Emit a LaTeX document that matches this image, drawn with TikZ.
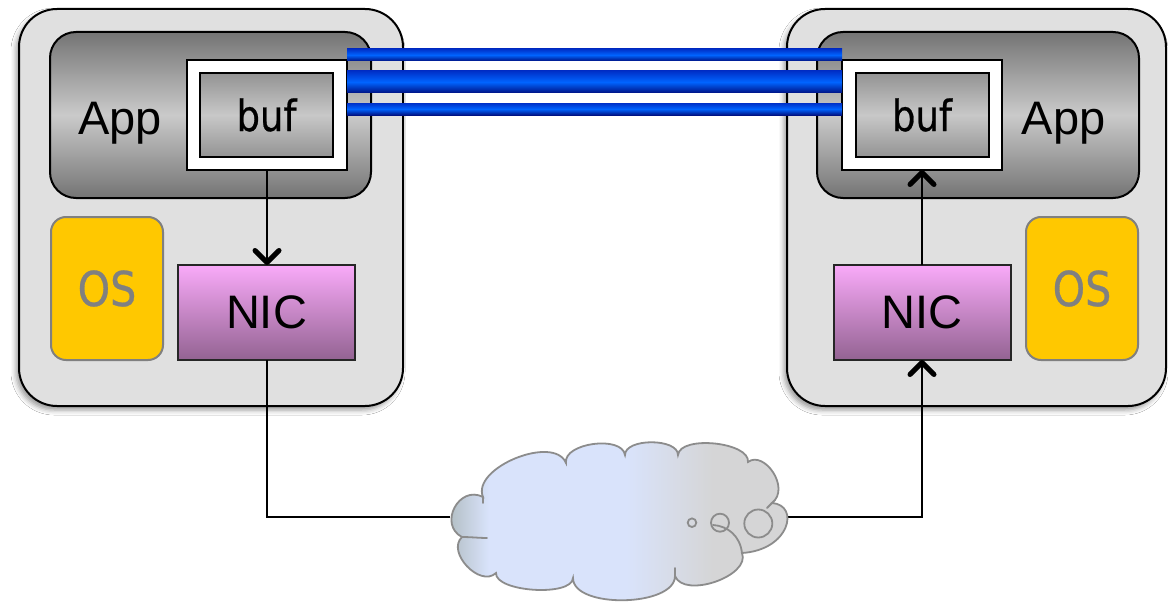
\documentclass[tikz,border=0pt]{standalone}
\usepackage{fontspec}
\newfontfamily\labelfont{Liberation Sans}
\newfontfamily\narrowfont[FakeStretch=0.86,FakeBold=0.6]{DejaVu Sans}
\usetikzlibrary{arrows.meta,calc,shadows.blur}

\definecolor{hostfill}{HTML}{E0E0E0}
\definecolor{appdark}{HTML}{747474}
\definecolor{applight}{HTML}{CACACA}
\definecolor{bufdark}{HTML}{939393}
\definecolor{buflight}{HTML}{C8C8C8}
\definecolor{nictop}{HTML}{F9AAF9}
\definecolor{nicbot}{HTML}{936392}
\definecolor{osfill}{HTML}{FFC800}
\definecolor{osgray}{HTML}{808080}
\definecolor{barbright}{HTML}{0064FF}
\definecolor{bartop}{HTML}{0030C8}
\definecolor{bardark}{HTML}{001284}
\definecolor{cloudedge}{HTML}{8C8C8C}
\definecolor{cloudleft}{HTML}{B2BEC4}
\definecolor{cloudblue}{HTML}{D9E3FB}
\definecolor{cloudgray}{HTML}{D5D5D6}

\pgfdeclarehorizontalshading{cloudshade}{100bp}{%
  color(0bp)=(cloudleft); color(26.5bp)=(cloudleft); color(32bp)=(cloudblue);
  color(51bp)=(cloudblue); color(63bp)=(cloudgray); color(100bp)=(cloudgray)}

\begin{document}
\begin{tikzpicture}[x=1pt,y=-1pt,
  box/.style={inner sep=0pt, outer sep=0pt},
  hostbox/.style={box, draw=black, line width=2pt, fill=hostfill,
    rounded corners=38pt, minimum height=397pt,
    blur shadow={shadow xshift=-3pt, shadow yshift=-4pt,
      shadow blur radius=5pt, shadow opacity=40}},
  appbox/.style={box, draw=black, line width=2pt, rounded corners=26pt,
    minimum width=321pt, minimum height=166pt,
    top color=appdark, bottom color=appdark, middle color=applight},
  bufframe/.style={box, draw=black, line width=2.5pt, fill=white,
    minimum width=160pt, minimum height=110pt},
  bufbox/.style={box, draw=black, line width=2pt,
    minimum width=133pt, minimum height=84pt,
    top color=bufdark, bottom color=bufdark, middle color=buflight,
    font=\narrowfont\fontsize{43}{46}\selectfont},
  osbox/.style={box, draw=osgray, line width=2pt, fill=osfill,
    rounded corners=15pt, minimum width=112pt, minimum height=143pt,
    text=osgray, font=\narrowfont\fontsize{48}{50}\selectfont},
  nicbox/.style={box, draw=black!85, line width=2pt,
    minimum width=177pt, minimum height=95pt,
    top color=nictop, bottom color=nicbot,
    font=\labelfont\fontsize{47}{50}\selectfont},
  applabel/.style={inner sep=0pt, anchor=base,
    font=\labelfont\fontsize{47}{50}\selectfont},
  conn/.style={draw=black, line width=2pt},
  arr/.style={conn, -{Straight Barb[round, length=12pt, width=24pt, line width=5pt]}},
  bar/.style={top color=bartop, bottom color=bardark, middle color=barbright},
  cloudline/.style={draw=cloudedge, line width=1.8pt},
]
\fill[white] (0,0) rectangle (1168,602);
\useasboundingbox (0,0) rectangle (1168,602);

% the two hosts
\node[hostbox, minimum width=384pt] (hostL) at (211,207.5) {};
\node[hostbox, minimum width=379pt] (hostR) at (976.5,207.5) {};

% applications with their buffers
\node[appbox] (appL) at (210.5,115) {};
\node[appbox, minimum width=322pt] (appR) at (978,115) {};
\node[applabel] (appLtext) at (120,134) {App};
\node[applabel] (appRtext) at (1063.5,134) {App};
\node[bufframe] (bufoL) at (267,115) {};
\node[bufbox] (bufL) at (266.5,115) {buf};
\node[bufframe] (bufoR) at (922,115) {};
\node[bufbox] (bufR) at (922,115) {buf};

% operating systems and network cards
\node[osbox] (osL) at (107,288.5) {OS};
\node[osbox] (osR) at (1082,288.5) {OS};
\node[nicbox] (nicL) at (266.5,312.5) {NIC};
\node[nicbox] (nicR) at (922,312.5) {NIC};

% direct buffer-to-buffer channel
\shade[bar] ($(bufoL.north east)+(0,-11)$) rectangle ($(bufoR.north west)+(0,1)$);
\shade[bar] ($(bufoL.north east)+(0,11)$) rectangle ($(bufoR.north west)+(0,33)$);
\shade[bar] ($(bufoL.north east)+(0,43)$) rectangle ($(bufoR.north west)+(0,55)$);

% data path through the network
\coordinate (cloudW) at (450,517);
\coordinate (cloudE) at (787,517);
\draw[arr] (bufoL.south) -- (bufoL.south |- nicL.north);
\draw[conn] (nicL.south) |- (cloudW);
\draw[arr] (cloudE) -| (nicR.south);
\draw[arr] (nicR.north) -- (nicR.north |- bufoR.south);

% the network cloud
\shade[shading=cloudshade, cloudline]
  (483,497)
  .. controls (471,468) and (554,434) .. (566,463)
  .. controls (563,443) and (622,435) .. (625,455)
  .. controls (625,438) and (678,438) .. (678,455)
  .. controls (680,435) and (750,442) .. (748,462)
  .. controls (764,450) and (791,488) .. (772,503)
  .. controls (800,505) and (790,550) .. (742,553)
  .. controls (751,576) and (684,599) .. (675,576)
  .. controls (675,607) and (573,609) .. (573,578)
  .. controls (572,597) and (495,592) .. (496,573)
  .. controls (480,588) and (446,552) .. (462,537)
  .. controls (438,524.5) and (459,484.5) .. (483,497)
  -- cycle;
\draw[cloudline, line cap=round]
  (462,537) .. controls (470,537) and (480,538) .. (487,538);
\draw[cloudline, line cap=round] (483,497) -- (483,503);
\draw[cloudline, line cap=round] (675,576) -- (675,568);
\draw[cloudline, line cap=round] (772,503) -- (767,508);
\draw[cloudline, line cap=round]
  (713,525) .. controls (728,526) and (740,536) .. (742,553);
\draw[cloudline] (692,522.7) circle (4.3);
\draw[cloudline] (720,522.7) circle (9);
\draw[cloudline] (758.3,523.5) circle (14);
\end{tikzpicture}
\end{document}
